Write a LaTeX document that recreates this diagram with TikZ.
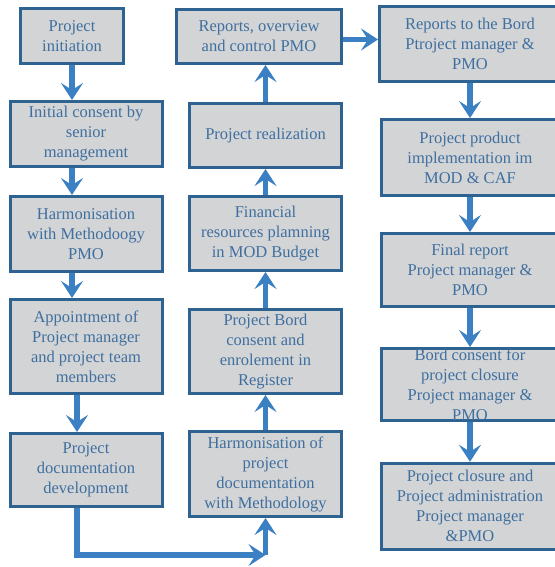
\documentclass[tikz,border=0pt]{standalone}
\usepackage{fontspec}
\setmainfont{Liberation Serif}
\usepackage{xcolor}
\usetikzlibrary{arrows.meta,positioning}
\definecolor{boxfill}{HTML}{D3D4D6}
\definecolor{boxline}{HTML}{2E6391}
\definecolor{boxtext}{HTML}{3F6F9F}
\definecolor{flow}{HTML}{3A80C2}

\begin{document}
\begin{tikzpicture}[
  node distance=35pt,
  box/.style={rectangle, draw=boxline, fill=boxfill, line width=3pt, text=boxtext, align=center, inner sep=0pt, font=\fontsize{16.5}{20}\selectfont},
  colone/.style={box, minimum width=152pt},
  coltwo/.style={box, minimum width=152pt},
  colthree/.style={box, minimum width=177pt},
  arrow/.style={-{Stealth[length=17pt,width=22pt,inset=7pt]}, line width=5.5pt, draw=flow}
]
\useasboundingbox (0,0) rectangle (554pt,-567pt);
\node[box, minimum width=103pt, minimum height=55pt] (init) at (72pt,-36pt) {Project\\initiation};
\node[colone, minimum height=65pt, below=35pt of init, xshift=14pt] (consent) {Initial consent by\\senior\\management};
\node[colone, minimum height=75pt, below=27pt of consent] (harm) {Harmonisation\\with Methodoogy\\PMO};
\node[colone, minimum height=94pt, below=25pt of harm] (appoint) {Appointment of\\Project manager\\and project team\\members};
\node[colone, minimum height=73pt, below=37pt of appoint] (docdev) {Project\\documentation\\development};
\node[box, minimum width=165pt, minimum height=54pt] (reports) at (259pt,-36.5pt) {Reports, overview\\and control PMO};
\node[coltwo, minimum height=64pt, below=37pt of reports, xshift=6.5pt] (realize) {Project realization};
\node[coltwo, minimum height=74pt, below=26pt of realize] (finance) {Financial\\resources plamning\\in MOD Budget};
\node[coltwo, minimum height=84pt, below=36pt of finance] (bord) {Project Bord\\consent and\\enrolement in\\Register};
\node[coltwo, minimum height=85pt, below=35pt of bord] (harmdoc) {Harmonisation of\\project\\documentation\\with Methodology};
\node[box, minimum width=181pt, minimum height=75pt] (toboard) at (470pt,-44pt) {Reports to the Bord\\Ptroject manager \&\\PMO};
\node[colthree, minimum height=76pt, below=35pt of toboard] (implement) {Project product\\implementation im\\MOD \& CAF};
\node[colthree, minimum height=73pt, below=35pt of implement] (final) {Final report\\Project manager \&\\PMO};
\node[colthree, minimum height=68pt, below=39pt of final] (closeok) {Bord consent for\\project closure\\Project manager \&\\PMO};
\node[colthree, minimum height=86pt, below=40pt of closeok] (closure) {Project closure and\\Project administration\\Project manager\\\&PMO};
\coordinate[below=37pt of harmdoc.south] (corner);
\draw[arrow] (init) -- (init |- consent.north);
\draw[arrow] (consent.south -| init) -- (init |- harm.north);
\draw[arrow] (harm.south -| init) -- (init |- appoint.north);
\draw[arrow] ([xshift=5pt]appoint.south -| init) -- ([xshift=5pt]init |- docdev.north);
\draw[arrow] ([xshift=5pt]docdev.south -| init) |- (corner);
\draw[arrow] (corner) -- (harmdoc);
\draw[arrow] (harmdoc) -- (bord);
\draw[arrow] (bord) -- (finance);
\draw[arrow] (finance) -- (realize);
\draw[arrow] (realize) -- (realize |- reports.south);
\draw[arrow] ([yshift=-3pt]reports.east) -- ([yshift=-3pt]reports.east -| toboard.west);
\draw[arrow] (toboard) -- (implement);
\draw[arrow] (implement) -- (final);
\draw[arrow] (final) -- (closeok);
\draw[arrow] (closeok) -- (closure);
\end{tikzpicture}
\end{document}
